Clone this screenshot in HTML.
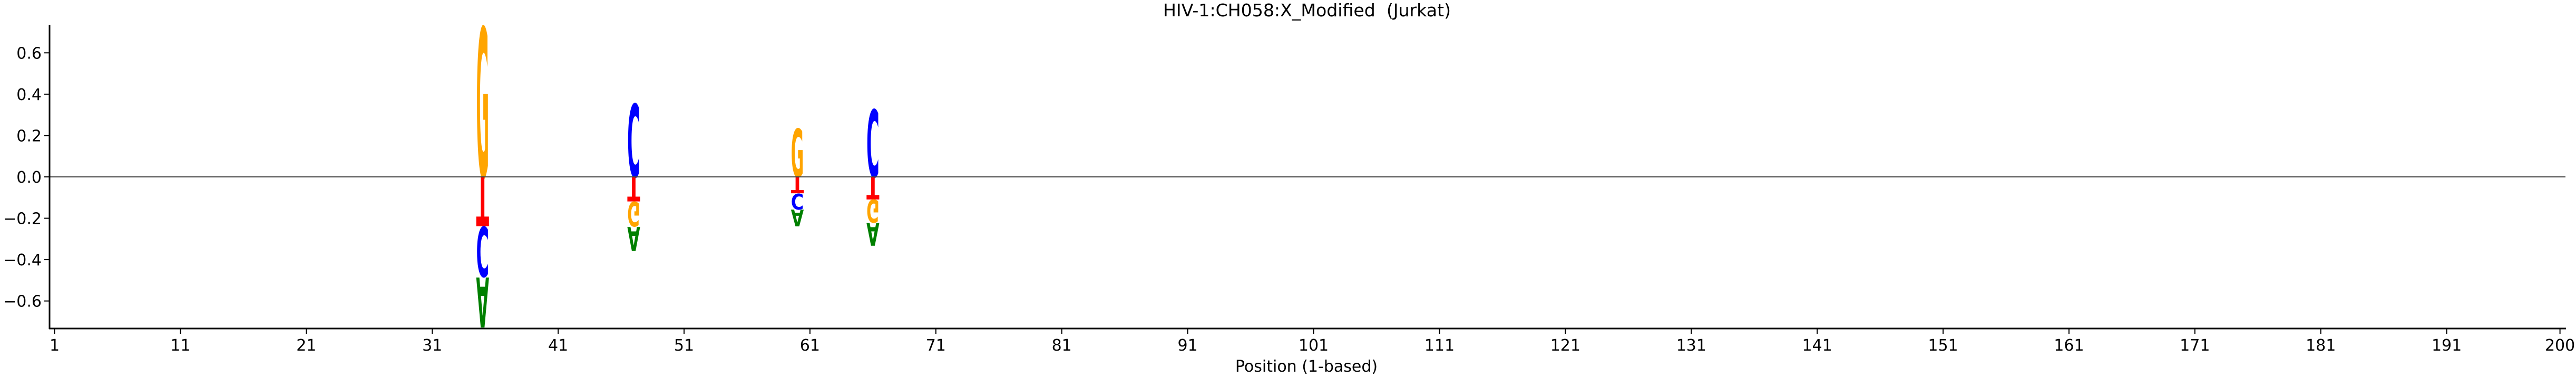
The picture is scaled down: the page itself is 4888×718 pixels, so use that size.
<!DOCTYPE html>
<html><head><meta charset="utf-8"><style>
html,body{margin:0;padding:0;background:#fff;}
svg{display:block;font-family:"DejaVu Sans","Liberation Sans",sans-serif;}
</style></head><body>
<svg id="chart" width="4888" height="718" viewBox="0 0 4888 718" xmlns="http://www.w3.org/2000/svg">
<rect width="4888" height="718" fill="#fff"/>
<text x="2480" y="31" font-size="33" text-anchor="middle" textLength="546" lengthAdjust="spacingAndGlyphs" style="white-space:pre">HIV-1:CH058:X_Modified&#160; (Jurkat)</text>
<text x="2479" y="706" font-size="30" text-anchor="middle">Position (1-based)</text>
<g id="ticks"></g>
<g id="marks"></g>
<line x1="94" y1="336" x2="4868" y2="336" stroke="#444" stroke-width="2"/>
<line x1="94" y1="47" x2="94" y2="625" stroke="#000" stroke-width="3"/>
<line x1="93" y1="624" x2="4869" y2="624" stroke="#000" stroke-width="3"/>
</svg>
<script>
const positions = [35, 47, 60, 66];
const valA = [-0.245, -0.118, -0.082, -0.111];
const valC = [-0.245, 0.358, -0.077, 0.33];
const valG = [0.733, -0.121, 0.237, -0.112];
const valT = [-0.242, -0.121, -0.081, -0.111];
const xTicks = [1,11,21,31,41,51,61,71,81,91,101,111,121,131,141,151,161,171,181,191,200];
const yTicks = [0.6, 0.4, 0.2, 0.0, -0.2, -0.4, -0.6];

const NS = 'http://www.w3.org/2000/svg';
function xs(p){ return 103.5 + (p - 1) * 23.89; }
function ys(v){ return 336 - v * 392.8; }
const colors = {A:'#008000', C:'#0000ff', G:'#ffa500', T:'#ff0000'};
const adv = {A:0.774, C:0.734, G:0.821, T:0.682};
const ticksG = document.getElementById('ticks');
const marksG = document.getElementById('marks');

xTicks.forEach(t => {
  const l = document.createElementNS(NS, 'line');
  
  
  l.setAttribute('x1', xs(t)); l.setAttribute('x2', xs(t));
  l.setAttribute('y1', 624); l.setAttribute('y2', 634);
  l.setAttribute('stroke', '#000'); l.setAttribute('stroke-width', 2);
  ticksG.appendChild(l);
  const tx = document.createElementNS(NS, 'text');
  
  
  tx.setAttribute('x', xs(t)); tx.setAttribute('y', 666);
  tx.setAttribute('font-size', 30); tx.setAttribute('text-anchor', 'middle');
  tx.textContent = String(t);
  ticksG.appendChild(tx);
});
yTicks.forEach(t => {
  const l = document.createElementNS(NS, 'line');
  
  
  l.setAttribute('x1', 84); l.setAttribute('x2', 94);
  l.setAttribute('y1', ys(t)); l.setAttribute('y2', ys(t));
  l.setAttribute('stroke', '#000'); l.setAttribute('stroke-width', 2);
  ticksG.appendChild(l);
  const tx = document.createElementNS(NS, 'text');
  
  
  tx.setAttribute('x', 79); tx.setAttribute('y', ys(t) + 11);
  tx.setAttribute('font-size', 30); tx.setAttribute('text-anchor', 'end');
  tx.textContent = (t < 0 ? '\u2212' : '') + Math.abs(t).toFixed(1);
  ticksG.appendChild(tx);
});

function drawLetter(ch, cx, v0, v1, flip){
  const h = Math.abs(ys(v1) - ys(v0));
  if (h < 0.5) return;
  const fs = 100;
  const sy = h / (0.74 * fs);
  const sx = 24.5 / (adv[ch] * fs);
  const t = document.createElementNS(NS, 'text');
  
  
  t.setAttribute('font-size', fs);
  t.setAttribute('font-weight', 'bold');
  t.setAttribute('text-anchor', 'middle');
  t.setAttribute('fill', colors[ch]);
  t.setAttribute('x', 0); t.setAttribute('y', 0);
  let tr;
  if (!flip) tr = 'translate(' + cx + ',' + ys(v0) + ') scale(' + sx + ',' + sy + ')';
  else tr = 'translate(' + cx + ',' + ys(v0) + ') scale(' + sx + ',' + (-sy) + ')';
  t.setAttribute('transform', tr);
  t.textContent = ch;
  marksG.appendChild(t);
}

positions.forEach((p, i) => {
  const cx = xs(p);
  const vals = {A: valA[i], C: valC[i], G: valG[i], T: valT[i]};
  const pos = Object.keys(vals).filter(k => vals[k] > 0).sort((a,b) => vals[a] - vals[b]);
  let acc = 0;
  pos.forEach(k => { drawLetter(k, cx, acc, acc + vals[k], false); acc += vals[k]; });
  const negOrder = ['T','C','G','A'].filter(k => vals[k] < 0);
  acc = 0;
  negOrder.forEach(k => { drawLetter(k, cx, acc, acc + vals[k], true); acc += vals[k]; });
});
</script>
</body></html>
